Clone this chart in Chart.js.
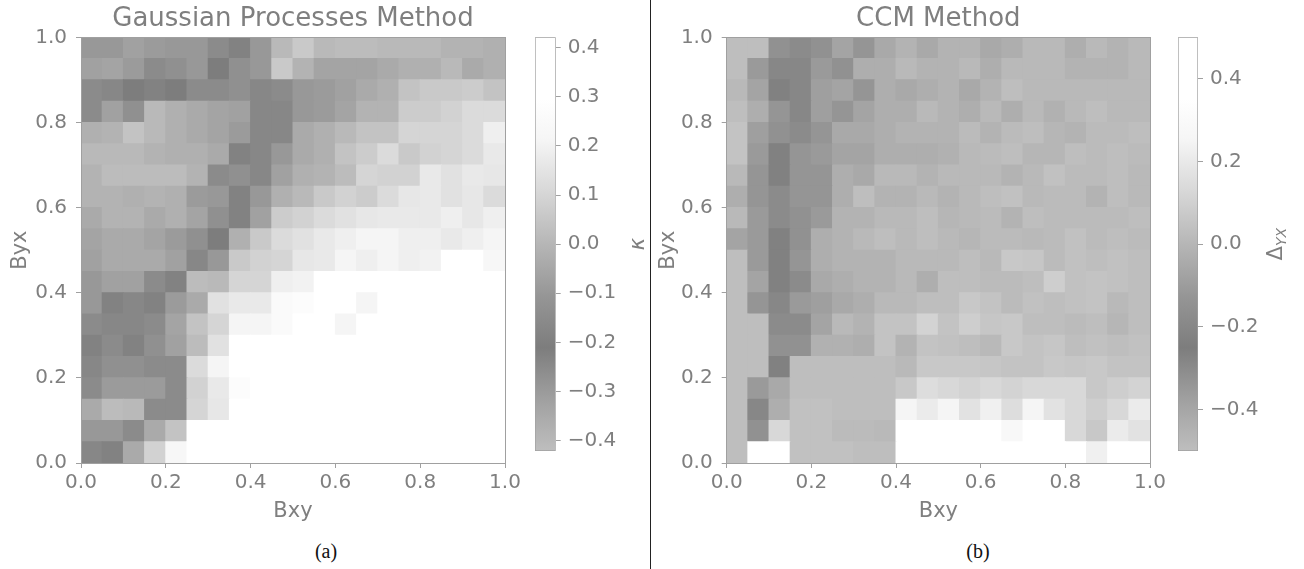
<!DOCTYPE html>
<html>
<head>
<meta charset="utf-8">
<title>Gaussian Processes vs CCM</title>
<script src="https://cdn.jsdelivr.net/npm/chart.js@4.4.1/dist/chart.umd.min.js"></script>
<style>
  body { margin: 0; background: #fff; }
  #page { position: relative; width: 1304px; height: 569px; overflow: hidden; background: #fff; }
  canvas { position: absolute; top: 0; }
  .caption { position: absolute; top: 540px; width: 80px; height: 20px; line-height: 20px;
             text-align: center; font: 20px "Liberation Serif", serif; color: #111; }
  #divider { position: absolute; left: 650px; top: 0; width: 1px; height: 569px; background: #222; }
</style>
</head>
<body>
<div id="page">
  <canvas id="gpMap" width="525" height="530" style="left:0"></canvas>
  <canvas id="gpBar" width="130" height="470" style="left:520px"></canvas>
  <div id="divider"></div>
  <canvas id="ccmMap" width="520" height="530" style="left:650px"></canvas>
  <canvas id="ccmBar" width="144" height="470" style="left:1160px"></canvas>
  <div class="caption" style="left:286px">(a)</div>
  <div class="caption" style="left:938px">(b)</div>
</div>
<script>
// cell centres along Bxy and the height of one Byx cell
const bxy = [0.025, 0.075, 0.125, 0.175, 0.225, 0.275, 0.325, 0.375, 0.425, 0.475,
             0.525, 0.575, 0.625, 0.675, 0.725, 0.775, 0.825, 0.875, 0.925, 0.975];
const byxStep = 0.05;
const axisTicks = [0.0, 0.2, 0.4, 0.6, 0.8, 1.0];

// kappa from the GP method, rows from Byx = 1.0 (top) down to 0.0
const gpKappa = [
  [-0.10,-0.10,-0.07,-0.09,-0.10,-0.10,-0.15,-0.19,-0.10, 0.01, 0.06, 0.01, 0.02, 0.02, 0.01, 0.01, 0.01,-0.01,-0.01,-0.02],
  [-0.07,-0.06,-0.09,-0.15,-0.13,-0.10,-0.21,-0.13,-0.10, 0.06,-0.01,-0.06,-0.06,-0.06,-0.04,-0.02,-0.02, 0.01,-0.04,-0.02],
  [-0.15,-0.17,-0.21,-0.19,-0.21,-0.15,-0.15,-0.13,-0.17,-0.15,-0.10,-0.09,-0.07,-0.04,-0.02, 0.04, 0.06, 0.06, 0.07, 0.04],
  [-0.15,-0.07,-0.13, 0.01,-0.02,-0.04,-0.06,-0.07,-0.17,-0.17,-0.10,-0.09,-0.06,-0.01,-0.01, 0.07, 0.07, 0.09, 0.12, 0.12],
  [-0.02,-0.01, 0.04, 0.01,-0.02,-0.04,-0.06,-0.09,-0.17,-0.17,-0.04,-0.02, 0.01, 0.04, 0.04, 0.10, 0.10, 0.10, 0.12, 0.19],
  [ 0.01, 0.01, 0.01,-0.01,-0.02,-0.02,-0.04,-0.19,-0.17,-0.10,-0.04,-0.02, 0.04, 0.07, 0.12, 0.06, 0.09, 0.10, 0.12, 0.17],
  [-0.01, 0.02, 0.02, 0.02, 0.02,-0.01,-0.15,-0.13,-0.17,-0.07,-0.02,-0.01, 0.02, 0.10, 0.09, 0.09, 0.17, 0.14, 0.17, 0.16],
  [-0.01,-0.01,-0.02,-0.01,-0.02,-0.09,-0.10,-0.19,-0.10,-0.02, 0.01, 0.06, 0.09, 0.07, 0.12, 0.16, 0.17, 0.14, 0.16, 0.12],
  [-0.04,-0.01,-0.01,-0.04,-0.02,-0.06,-0.13,-0.19,-0.07, 0.07, 0.09, 0.12, 0.14, 0.16, 0.17, 0.17, 0.17, 0.19, 0.16, 0.19],
  [-0.06,-0.04,-0.04,-0.06,-0.09,-0.13,-0.21,-0.02, 0.06, 0.12, 0.14, 0.17, 0.19, 0.21, 0.21, 0.19, 0.19, 0.17, 0.19, 0.21],
  [-0.07,-0.04,-0.04,-0.04,-0.07,-0.17,-0.10, 0.06, 0.09, 0.10, 0.16, 0.17, 0.21, 0.19, 0.21, 0.19, 0.20, 0.33, 0.35, 0.23],
  [-0.10,-0.07,-0.07,-0.15,-0.19, 0.02, 0.01, 0.10, 0.10, 0.19, 0.20, 0.32, 0.36, 0.38, 0.35, 0.37, 0.39, 0.36, 0.40, 0.38],
  [-0.10,-0.19,-0.17,-0.19,-0.09,-0.04, 0.14, 0.17, 0.17, 0.25, 0.27, 0.35, 0.37, 0.21, 0.38, 0.40, 0.39, 0.41, 0.40, 0.42],
  [-0.15,-0.17,-0.17,-0.15,-0.06, 0.04, 0.10, 0.21, 0.21, 0.25, 0.33, 0.36, 0.21, 0.37, 0.39, 0.40, 0.41, 0.40, 0.42, 0.41],
  [-0.19,-0.15,-0.19,-0.13,-0.07, 0.02, 0.14, 0.31, 0.35, 0.37, 0.38, 0.39, 0.40, 0.40, 0.41, 0.41, 0.42, 0.41, 0.42, 0.42],
  [-0.17,-0.13,-0.13,-0.15,-0.15, 0.12, 0.21, 0.32, 0.36, 0.38, 0.39, 0.40, 0.41, 0.41, 0.42, 0.42, 0.42, 0.42, 0.42, 0.42],
  [-0.15,-0.09,-0.09,-0.09,-0.15, 0.09, 0.17, 0.27, 0.34, 0.37, 0.39, 0.40, 0.41, 0.42, 0.42, 0.42, 0.42, 0.42, 0.42, 0.42],
  [-0.04, 0.02, 0.01,-0.15,-0.15, 0.10, 0.16, 0.33, 0.37, 0.39, 0.40, 0.41, 0.42, 0.42, 0.42, 0.42, 0.42, 0.42, 0.42, 0.42],
  [-0.10,-0.10,-0.15,-0.04, 0.04, 0.31, 0.36, 0.38, 0.40, 0.41, 0.42, 0.42, 0.42, 0.42, 0.42, 0.42, 0.42, 0.42, 0.42, 0.42],
  [-0.17,-0.19,-0.04, 0.09, 0.23, 0.33, 0.37, 0.39, 0.40, 0.41, 0.42, 0.42, 0.42, 0.42, 0.42, 0.42, 0.42, 0.42, 0.42, 0.42]
];

// Delta_YX from the CCM method, same row order
const ccmDelta = [
  [ 0.03, 0.03,-0.15,-0.18,-0.15,-0.07,-0.13,-0.05,-0.01,-0.05,-0.01,-0.01,-0.05,-0.03, 0.01, 0.01,-0.03, 0.01,-0.01, 0.01],
  [ 0.03,-0.11,-0.20,-0.20,-0.11,-0.15,-0.03,-0.03, 0.01,-0.01,-0.01, 0.01,-0.03, 0.01, 0.01, 0.01,-0.01,-0.01,-0.01, 0.01],
  [ 0.01,-0.07,-0.23,-0.20,-0.09,-0.07,-0.13,-0.03,-0.05,-0.03,-0.01,-0.05,-0.01, 0.03, 0.01, 0.01, 0.01, 0.01, 0.01, 0.01],
  [ 0.03,-0.03,-0.13,-0.20,-0.09,-0.13,-0.07,-0.03,-0.03, 0.01,-0.01,-0.03, 0.01,-0.03, 0.01,-0.02, 0.01, 0.03, 0.01, 0.01],
  [ 0.05,-0.09,-0.15,-0.18,-0.13,-0.05,-0.05,-0.03,-0.01,-0.01,-0.01, 0.02,-0.01, 0.02, 0.03, 0.00,-0.01, 0.02, 0.02, 0.03],
  [ 0.05,-0.11,-0.23,-0.13,-0.11,-0.07,-0.07,-0.03,-0.03,-0.03,-0.02, 0.01, 0.02, 0.03, 0.00, 0.00, 0.03, 0.02, 0.03, 0.02],
  [ 0.01,-0.13,-0.23,-0.13,-0.13,-0.03,-0.05, 0.01, 0.01,-0.01, 0.01, 0.01, 0.01,-0.01, 0.01, 0.04, 0.02, 0.02, 0.03, 0.01],
  [-0.03,-0.13,-0.18,-0.13,-0.13,-0.03, 0.03,-0.01,-0.01, 0.01,-0.01, 0.01, 0.03, 0.04, 0.01, 0.02, 0.02,-0.01, 0.03, 0.01],
  [ 0.01,-0.11,-0.18,-0.15,-0.11,-0.01,-0.01, 0.01, 0.01, 0.03, 0.00, 0.01, 0.02,-0.01, 0.03, 0.02, 0.02, 0.02, 0.02, 0.03],
  [-0.07,-0.11,-0.23,-0.15,-0.03,-0.01, 0.01, 0.03, 0.01, 0.03, 0.01, 0.00, 0.02, 0.02, 0.01, 0.02, 0.04, 0.02, 0.03, 0.02],
  [ 0.03,-0.11,-0.23,-0.13,-0.03,-0.01,-0.01,-0.01, 0.01, 0.01, 0.01, 0.03, 0.01, 0.07, 0.06, 0.02, 0.04, 0.03, 0.04, 0.03],
  [ 0.03,-0.07,-0.23,-0.18,-0.05,-0.03,-0.01,-0.01, 0.01,-0.03, 0.03, 0.03, 0.02, 0.02, 0.03, 0.09, 0.04, 0.05, 0.04, 0.03],
  [ 0.03,-0.13,-0.20,-0.11,-0.09,-0.05,-0.03, 0.01, 0.01, 0.03, 0.03, 0.07, 0.05, 0.02, 0.04, 0.03, 0.04, 0.05, 0.01, 0.03],
  [ 0.03, 0.03,-0.18,-0.18,-0.07, 0.01,-0.01, 0.05, 0.05, 0.11, 0.05, 0.09, 0.06, 0.07, 0.03, 0.03, 0.02, 0.03, 0.00, 0.03],
  [ 0.03, 0.03,-0.15,-0.15,-0.02,-0.02,-0.03, 0.05,-0.01, 0.05, 0.04, 0.03, 0.01, 0.07, 0.05, 0.06, 0.03, 0.04, 0.03, 0.04],
  [ 0.03, 0.03,-0.23, 0.03, 0.03, 0.03, 0.03, 0.03, 0.01, 0.07, 0.07, 0.07, 0.06, 0.05, 0.05, 0.07, 0.06, 0.07, 0.05, 0.05],
  [ 0.03,-0.11,-0.05, 0.03, 0.03, 0.03, 0.03, 0.03, 0.07, 0.15, 0.13, 0.11, 0.13, 0.11, 0.13, 0.13, 0.13, 0.07, 0.09, 0.11],
  [ 0.03,-0.20,-0.03, 0.04, 0.04, 0.03, 0.03, 0.03, 0.25, 0.21, 0.25, 0.17, 0.23, 0.15, 0.25, 0.17, 0.13, 0.09, 0.13, 0.21],
  [ 0.03,-0.15, 0.13, 0.04, 0.04, 0.02, 0.02, 0.01, 0.42, 0.44, 0.45, 0.43, 0.46, 0.28, 0.44, 0.42, 0.13, 0.07, 0.21, 0.17],
  [ 0.03, 0.45, 0.47, 0.04, 0.04, 0.04, 0.03, 0.03, 0.43, 0.45, 0.46, 0.44, 0.45, 0.47, 0.44, 0.46, 0.45, 0.23, 0.44, 0.43]
];

const gpRange = [-0.421, 0.421];
const gpTicks = [-0.4, -0.3, -0.2, -0.1, 0.0, 0.1, 0.2, 0.3, 0.4];
const ccmRange = [-0.5, 0.5];
const ccmTicks = [-0.4, -0.2, 0.0, 0.2, 0.4];

// grey colormap: position along the colorbar -> grey level
const grayStops = [[0, 190], [0.125, 160], [0.25, 125], [0.375, 150], [0.5, 182],
                   [0.625, 215], [0.75, 245], [0.85, 255], [1, 255]];

const TEXT = '#7f7f7f';
const SPINE = '#a0a0a0';
const FONT = 'DejaVu Sans';

function rgb(g) { return `rgb(${g},${g},${g})`; }

function shade(t) {
  t = Math.min(1, Math.max(0, t));
  for (let i = 1; i < grayStops.length; i++) {
    const [t1, g1] = grayStops[i];
    if (t <= t1) {
      const [t0, g0] = grayStops[i - 1];
      return rgb(Math.round(g0 + (g1 - g0) * (t - t0) / (t1 - t0)));
    }
  }
  return rgb(255);
}

function tickText(v) {
  if (Math.abs(v) < 1e-9) v = 0;
  return v.toFixed(1).replace('-', '\u2212');
}

function setTicks(list) {
  return s => { s.ticks = list.map(value => ({value})); };
}

// top and right spines: axes with no ticks, only the border line
function frameAxis(position) {
  return {
    type: 'linear', position, min: 0, max: 1, offset: false,
    ticks: {display: false},
    grid: {display: false, drawTicks: false, tickLength: 0},
    border: {color: SPINE, z: 1}
  };
}

function heatmap(id, title, rows, range, yWidth, yTitlePad) {
  const [vmin, vmax] = range;
  const datasets = rows.slice().reverse().map(row => ({
    data: bxy.map(x => ({x, y: byxStep})),
    backgroundColor: row.map(v => shade((v - vmin) / (vmax - vmin))),
    barPercentage: 1,
    categoryPercentage: 1,
    borderWidth: 0,
    inflateAmount: 0.5
  }));
  const tickFont = {family: FONT, size: 20};
  const titleFont = {family: FONT, size: 21, lineHeight: 1.2};
  return new Chart(document.getElementById(id), {
    type: 'bar',
    data: {datasets},
    options: {
      responsive: false,
      animation: false,
      events: [],
      layout: {padding: {right: 20}},
      plugins: {
        legend: {display: false},
        tooltip: {enabled: false},
        title: {
          display: true, text: title, color: TEXT, fullSize: false,
          font: {family: FONT, size: 26, weight: 'normal', lineHeight: 1.15},
          padding: {top: 4.3, bottom: 3.1}
        }
      },
      scales: {
        x: {
          type: 'linear', stacked: true, min: 0, max: 1, offset: false,
          afterBuildTicks: setTicks(axisTicks),
          ticks: {color: TEXT, font: tickFont, padding: 3, maxRotation: 0, callback: tickText},
          grid: {drawOnChartArea: false, offset: false, tickLength: 5, color: SPINE},
          border: {color: SPINE, z: 1},
          title: {display: true, text: 'Bxy', color: TEXT, font: titleFont, padding: {bottom: 5.4}},
          afterFit: s => { s.height = 67; }
        },
        y: {
          type: 'linear', stacked: true, min: 0, max: 1,
          afterBuildTicks: setTicks(axisTicks),
          ticks: {color: TEXT, font: tickFont, padding: 9, callback: tickText},
          grid: {drawOnChartArea: false, tickLength: 5, color: SPINE},
          border: {color: SPINE, z: 1},
          title: {display: true, text: 'Byx', color: TEXT, font: titleFont, padding: {top: yTitlePad}},
          afterFit: s => { s.width = yWidth; }
        },
        xTop: frameAxis('top'),
        yRight: frameAxis('right')
      }
    }
  });
}

// colorbar caption, written bottom-to-top beside the tick labels
const cbarLabel = {
  id: 'cbarLabel',
  afterDraw(chart, args, opts) {
    const {ctx} = chart;
    const s = chart.scales.y;
    ctx.save();
    ctx.translate(s.right - opts.gap, (s.top + s.bottom) / 2);
    ctx.rotate(-Math.PI / 2);
    ctx.fillStyle = TEXT;
    ctx.textBaseline = 'middle';
    ctx.textAlign = 'left';
    const mainFont = `${opts.italic ? 'italic ' : ''}21px "${FONT}"`;
    const subFont = `italic 14px "${FONT}"`;
    ctx.font = mainFont;
    const w1 = ctx.measureText(opts.text).width;
    ctx.font = subFont;
    const w2 = opts.sub ? ctx.measureText(opts.sub).width : 0;
    const x0 = -(w1 + w2) / 2;
    ctx.font = mainFont;
    ctx.fillText(opts.text, x0, 0);
    if (opts.sub) {
      ctx.font = subFont;
      ctx.fillText(opts.sub, x0 + w1, 5);
    }
    ctx.restore();
  }
};

function colorbar(id, range, ticks, label, padLeft, axisWidth) {
  const [vmin, vmax] = range;
  return new Chart(document.getElementById(id), {
    type: 'bar',
    data: {
      labels: [''],
      datasets: [{
        data: [[vmin, vmax]],
        barPercentage: 1,
        categoryPercentage: 1,
        borderWidth: 1,
        borderColor: SPINE,
        borderSkipped: false,
        backgroundColor: c => {
          const area = c.chart.chartArea;
          if (!area) return null;
          const g = c.chart.ctx.createLinearGradient(0, area.bottom, 0, area.top);
          grayStops.forEach(([t, v]) => g.addColorStop(t, rgb(v)));
          return g;
        }
      }]
    },
    options: {
      responsive: false,
      animation: false,
      events: [],
      layout: {padding: {left: padLeft, top: 37.3, bottom: 7.3}},
      plugins: {
        legend: {display: false},
        tooltip: {enabled: false},
        cbarLabel: label
      },
      scales: {
        x: {display: false},
        y: {
          position: 'right', min: vmin, max: vmax,
          afterBuildTicks: setTicks(ticks),
          ticks: {color: TEXT, font: {family: FONT, size: 20}, padding: 7, callback: tickText},
          grid: {drawOnChartArea: false, tickLength: 5, color: SPINE},
          border: {display: false},
          afterFit: s => { s.width = axisWidth; }
        }
      }
    },
    plugins: [cbarLabel]
  });
}

heatmap('gpMap', 'Gaussian Processes Method', gpKappa, gpRange, 81, 8.4);
colorbar('gpBar', gpRange, gpTicks, {text: '\u03BA', sub: '', italic: true, gap: 11}, 15, 94.3);
heatmap('ccmMap', 'CCM Method', ccmDelta, ccmRange, 76.7, 6.4);
colorbar('ccmBar', ccmRange, ccmTicks, {text: '\u0394', sub: 'YX', italic: false, gap: 27}, 18, 106);
</script>
</body>
</html>
